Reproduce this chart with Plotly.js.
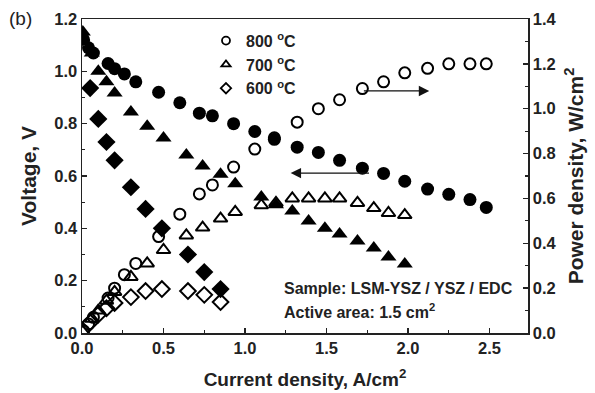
<!DOCTYPE html>
<html><head><meta charset="utf-8">
<script src="https://cdn.plot.ly/plotly-3.0.1.min.js"></script>
<style>html,body{margin:0;padding:0;background:#fff}#c{width:595px;height:393px}</style>
</head><body><div id="c"></div>
<script>
// 800 °C
var i800 = [0.01, 0.04, 0.07, 0.16, 0.20, 0.26, 0.33, 0.47, 0.60, 0.72, 0.80, 0.93, 1.06, 1.18, 1.32, 1.45, 1.58, 1.72, 1.85, 1.98, 2.12, 2.25, 2.38, 2.48];
var v800 = [1.12, 1.09, 1.07, 1.03, 1.01, 0.99, 0.96, 0.92, 0.88, 0.84, 0.83, 0.80, 0.77, 0.74, 0.71, 0.69, 0.66, 0.63, 0.61, 0.58, 0.55, 0.53, 0.51, 0.48];
var p800 = [0.01, 0.04, 0.07, 0.156, 0.20, 0.26, 0.31, 0.43, 0.53, 0.62, 0.66, 0.74, 0.82, 0.87, 0.94, 1.00, 1.04, 1.09, 1.12, 1.16, 1.18, 1.20, 1.20, 1.20];
// 700 °C
var i700 = [0.005, 0.06, 0.10, 0.15, 0.20, 0.30, 0.40, 0.50, 0.64, 0.74, 0.85, 0.94, 1.10, 1.19, 1.29, 1.39, 1.49, 1.58, 1.69, 1.79, 1.88, 1.98];
var v700 = [1.15, 1.07, 1.00, 0.96, 0.917, 0.845, 0.79, 0.745, 0.68, 0.638, 0.607, 0.57, 0.52, 0.49, 0.466, 0.428, 0.40, 0.378, 0.352, 0.325, 0.29, 0.264];
var p700 = [0.006, 0.064, 0.10, 0.144, 0.183, 0.25, 0.31, 0.37, 0.435, 0.47, 0.51, 0.54, 0.57, 0.58, 0.60, 0.60, 0.60, 0.60, 0.58, 0.557, 0.535, 0.526];
// 600 °C
var i600 = [0.05, 0.10, 0.15, 0.20, 0.30, 0.39, 0.49, 0.65, 0.75, 0.85];
var v600 = [0.936, 0.818, 0.73, 0.66, 0.557, 0.474, 0.40, 0.30, 0.233, 0.168];
var p600 = [0.047, 0.082, 0.11, 0.134, 0.16, 0.187, 0.196, 0.187, 0.17, 0.138];

var legendNames = ['800 <sup>o</sup>C', '700 <sup>o</sup>C', '600 <sup>o</sup>C'];
var symbols = ['circle', 'triangle-up', 'diamond'];

var ML = 2;
function vTrace(x, y, sym, size) {
  return {x: x, y: y, type: 'scatter', mode: 'markers', showlegend: false,
    marker: {symbol: sym, size: size, color: '#000', line: {width: 0}}};
}
function pTrace(x, y, sym, size) {
  return {x: x, y: y, type: 'scatter', mode: 'markers', yaxis: 'y2', showlegend: false,
    marker: {symbol: sym + '-open', size: size, color: '#000', line: {width: ML, color: '#000'}}};
}
var data = [
  pTrace(i800, p800, 'circle', 11), pTrace(i700, p700, 'triangle-up', 12), pTrace(i600, p600, 'diamond', 12),
  vTrace(i800, v800, 'circle', 13), vTrace(i700, v700, 'triangle-up', 14), vTrace(i600, v600, 'diamond', 14)
];
for (var k = 0; k < 3; k++) {
  data.push({x: [null], y: [null], type: 'scatter', mode: 'markers', name: legendNames[k], showlegend: true,
    marker: {symbol: symbols[k] + '-open', size: 8, color: '#000', line: {width: 1.8, color: '#000'}}});
}

var F = 'Liberation Sans, Arial, sans-serif';
var axisCommon = {showgrid: false, zeroline: false, showline: true, linecolor: '#222', linewidth: 1.5,
  ticks: 'inside', ticklen: 5, tickwidth: 1.5, tickcolor: '#222',
  tickfont: {family: F, size: 16.5, color: '#222', weight: 'bold'}};

var layout = {
  width: 595, height: 393,
  margin: {l: 82, r: 67, t: 19, b: 60},
  paper_bgcolor: '#fff', plot_bgcolor: '#fff',
  font: {family: F, color: '#222'},
  xaxis: Object.assign({}, axisCommon, {range: [0, 2.736], tickvals: [0, 0.5, 1.0, 1.5, 2.0, 2.5],
    ticktext: ['0.0', '0.5', '1.0', '1.5', '2.0', '2.5'], mirror: true,
    minor: {dtick: 0.25, tick0: 0, ticks: 'inside', ticklen: 3, tickwidth: 1.2, tickcolor: '#222'},
    title: {text: 'Current density, A/cm<sup>2</sup>', font: {family: F, size: 19, weight: 'bold', color: '#222'}, standoff: 16}}),
  yaxis: Object.assign({}, axisCommon, {range: [0, 1.2], dtick: 0.2, tickformat: '.1f', mirror: true,
    minor: {dtick: 0.1, ticks: 'inside', ticklen: 3, tickwidth: 1.2, tickcolor: '#222'},
    title: {text: 'Voltage, V', font: {family: F, size: 21, weight: 'bold', color: '#222'}, standoff: 12}}),
  yaxis2: Object.assign({}, axisCommon, {range: [0, 1.4], dtick: 0.2, tickformat: '.1f', overlaying: 'y', side: 'right',
    minor: {dtick: 0.1, ticks: 'inside', ticklen: 3, tickwidth: 1.2, tickcolor: '#222'},
    title: {text: 'Power density, W/cm<sup>2</sup>', font: {family: F, size: 21, weight: 'bold', color: '#222'}, standoff: 12}}),
  showlegend: true,
  legend: {x: 0.278, y: 0.985, xanchor: 'left', yanchor: 'top', bgcolor: 'rgba(0,0,0,0)',
    font: {family: F, size: 16, color: '#222', weight: 'bold'}, itemsizing: 'trace', tracegroupgap: 0},
  annotations: [
    {xref: 'x', yref: 'y', x: 2.13, y: 0.925, ax: 1.72, ay: 0.925, axref: 'x', ayref: 'y',
      showarrow: true, arrowhead: 2, arrowsize: 1.6, arrowwidth: 1.3, arrowcolor: '#111', text: ''},
    {xref: 'x', yref: 'y', x: 1.28, y: 0.611, ax: 1.77, ay: 0.611, axref: 'x', ayref: 'y',
      showarrow: true, arrowhead: 2, arrowsize: 1.6, arrowwidth: 1.3, arrowcolor: '#111', text: ''},
    {xref: 'paper', yref: 'paper', x: 0.449, y: 0.143, xanchor: 'left', yanchor: 'middle', showarrow: false,
      text: 'Sample: LSM-YSZ / YSZ / EDC', font: {family: F, size: 16, weight: 'bold', color: '#222'}},
    {xref: 'paper', yref: 'paper', x: 0.449, y: 0.07, xanchor: 'left', yanchor: 'middle', showarrow: false,
      text: 'Active area: 1.5 cm<sup>2</sup>', font: {family: F, size: 16, weight: 'bold', color: '#222'}},
    {xref: 'paper', yref: 'paper', x: -0.168, y: 1.003, xanchor: 'left', yanchor: 'middle', showarrow: false,
      text: '(b)', font: {family: F, size: 19, color: '#222'}}
  ]
};
Plotly.newPlot('c', data, layout, {displayModeBar: false, staticPlot: true});
</script></body></html>
